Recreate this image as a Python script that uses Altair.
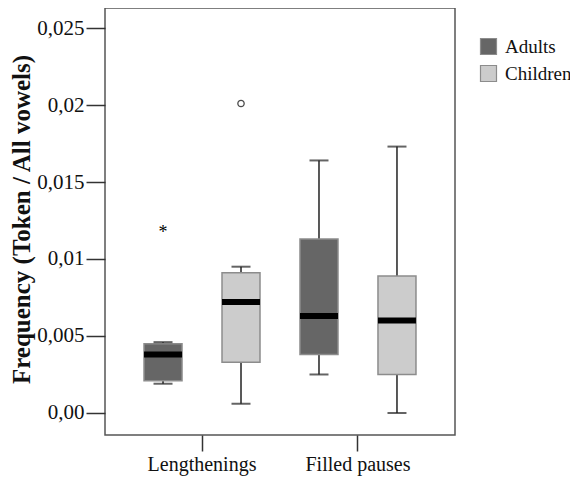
import altair as alt
import pandas as pd

# ---- data ----
categories = ["Lengthenings", "Lengthenings", "Filled pauses", "Filled pauses"]
groups = ["Adults", "Children", "Adults", "Children"]
whisker_low = [0.0019, 0.0006, 0.0025, 0.0000]
q1 = [0.0021, 0.0033, 0.0038, 0.0025]
median = [0.0038, 0.0072, 0.0063, 0.0060]
q3 = [0.0045, 0.0091, 0.0113, 0.0089]
whisker_high = [0.0046, 0.0095, 0.0164, 0.0173]

outlier_cat = ["Lengthenings"]
outlier_group = ["Children"]
outlier_val = [0.0201]

extreme_cat = ["Lengthenings"]
extreme_group = ["Adults"]
extreme_val = [0.0120]

cat_order = ["Lengthenings", "Filled pauses"]
group_order = ["Adults", "Children"]
group_colors = ["#666666", "#cccccc"]

ytick_values = [0, 0.005, 0.01, 0.015, 0.02, 0.025]
ytick_labels = ["0,00", "0,005", "0,01", "0,015", "0,02", "0,025"]

YTITLE = "Frequency (Token / All vowels)"
FONT = "Liberation Serif"

df = pd.DataFrame({
    "category": categories, "group": groups, "low": whisker_low,
    "q1": q1, "median": median, "q3": q3, "high": whisker_high,
})
df_out = pd.DataFrame({"category": outlier_cat, "group": outlier_group, "v": outlier_val})
df_ext = pd.DataFrame({"category": extreme_cat, "group": extreme_group, "v": extreme_val})

label_expr = "{}[indexof({}, datum.value)]".format(
    "[" + ",".join("'" + s + "'" for s in ytick_labels) + "]",
    "[" + ",".join(str(v) for v in ytick_values) + "]",
)

yscale = alt.Scale(domain=[-0.00143, 0.0263], nice=False, zero=False)
yaxis = alt.Axis(values=ytick_values, labelExpr=label_expr, tickSize=19,
                 labelPadding=2, labelFontSize=21, labelFont=FONT,
                 titleFont=FONT, titleFontSize=25,
                 titleFontWeight="bold", titleX=-84, titleY=211,
                 titleBaseline="middle", titleAlign="center", titleAngle=-90)

xenc = alt.X("category:N", sort=cat_order, title=None,
             scale=alt.Scale(paddingInner=0, paddingOuter=0.122),
             axis=alt.Axis(tickSize=16, labelPadding=3, labelFontSize=20,
                           labelFont=FONT, labelAngle=0))
xoff = alt.XOffset("group:N", sort=group_order,
                   scale=alt.Scale(paddingInner=0, paddingOuter=0))


def Y(field):
    return alt.Y(field, type="quantitative", scale=yscale, axis=yaxis, title=YTITLE)


base = alt.Chart(df).encode(x=xenc, xOffset=xoff)

whisker = base.mark_rule(color="#222222", strokeWidth=1.5).encode(
    y=Y("low"), y2="high")
box = base.mark_bar(size=38, stroke="#8c8c8c", strokeWidth=1.5).encode(
    y=Y("q1"), y2="q3",
    color=alt.Color("group:N", sort=group_order,
                    scale=alt.Scale(domain=group_order, range=group_colors),
                    legend=alt.Legend(title=None, orient="none", legendX=374, legendY=29,
                                      symbolType="square", symbolSize=256,
                                      symbolStrokeColor="#8c8c8c", symbolStrokeWidth=1.2,
                                      labelFontSize=19, labelFont=FONT, labelColor="#111111",
                                      labelOffset=7, rowPadding=6, padding=0)))
cap_low = base.mark_tick(size=19, thickness=2, color="#222222").encode(y=Y("low"))
cap_high = base.mark_tick(size=19, thickness=2, color="#222222").encode(y=Y("high"))
med = base.mark_tick(size=38, thickness=6, color="#000000", opacity=1).encode(y=Y("median"))

outl = alt.Chart(df_out).mark_point(shape="circle", size=40, filled=False,
                                    color="#000000", strokeWidth=1.3).encode(
    x=xenc, xOffset=xoff, y=Y("v"))
ext = alt.Chart(df_ext).mark_text(text="*", fontSize=18, font=FONT, dy=5,
                                  color="#000000", baseline="middle").encode(
    x=xenc, xOffset=xoff, y=Y("v"))

chart = alt.layer(whisker, box, cap_low, cap_high, med, outl, ext).properties(
    width=350, height=427,
    autosize=alt.AutoSizeParams(type="none"),
    padding={"left": 97, "top": 0, "right": 115, "bottom": 42},
).configure(font=FONT).configure_view(stroke="#555555", strokeWidth=1.5).configure_axis(
    labelFont=FONT, titleFont=FONT, grid=False, domain=False,
    tickColor="#333333", tickWidth=1.5, labelColor="#111111", titleColor="#111111"
).configure_legend(labelFont=FONT)

chart.save("out.html", embed_options={"renderer": "svg", "actions": False})
